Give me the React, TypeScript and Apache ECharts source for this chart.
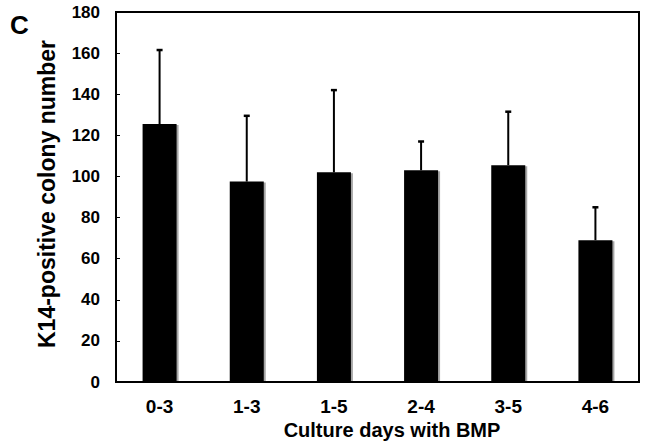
import React, { useEffect, useRef } from "react";
import * as echarts from "echarts";

const categories = ["0-3", "1-3", "1-5", "2-4", "3-5", "4-6"];
const means = [125.5, 97.5, 102, 103, 105.5, 69];
const errors = [36, 32, 40, 14, 26, 16];
const yTicks = { min: 0, max: 180, interval: 20 };

export default function App() {
  const ref = useRef<HTMLDivElement>(null);
  useEffect(() => {
    if (!ref.current) return;
    const chart = echarts.init(ref.current, null, { renderer: "svg" });
    const font = "'Liberation Sans', Arial, sans-serif";
    const errData = means.map((m, i) => [i, m, m + errors[i]]);
    chart.setOption({
      animation: false,
      backgroundColor: "#fff",
      grid: {
        left: 116,
        right: 16,
        top: 12,
        bottom: 62,
        show: true,
        borderColor: "#000",
        borderWidth: 2,
        backgroundColor: "transparent",
      },
      xAxis: {
        type: "category",
        data: categories,
        boundaryGap: true,
        axisLine: { lineStyle: { color: "#000", width: 2 } },
        axisTick: { inside: true, length: 4, lineStyle: { color: "#000", width: 1 } },
        axisLabel: {
          color: "#000",
          fontFamily: font,
          fontWeight: "bold",
          fontSize: 19,
          margin: 15,
        },
        splitLine: { show: false },
      },
      yAxis: {
        type: "value",
        min: yTicks.min,
        max: yTicks.max,
        interval: yTicks.interval,
        axisLine: { show: true, lineStyle: { color: "#000", width: 2 } },
        axisTick: { show: true, inside: true, length: 4, lineStyle: { color: "#000", width: 1 } },
        axisLabel: {
          color: "#000",
          fontFamily: font,
          fontWeight: "bold",
          fontSize: 17,
          margin: 16,
        },
        splitLine: { show: false },
      },
      graphic: [
        {
          type: "text",
          left: 10,
          top: 12,
          style: { text: "C", fontFamily: font, fontWeight: "bold", fontSize: 26, fill: "#000" },
        },
        {
          type: "text",
          x: 47,
          y: 194,
          rotation: Math.PI / 2,
          style: {
            text: "K14-positive colony number",
            fontFamily: font,
            fontWeight: "bold",
            fontSize: 23,
            fill: "#000",
            align: "center",
            verticalAlign: "middle",
          },
        },
        {
          type: "text",
          x: 392,
          y: 430,
          style: {
            text: "Culture days with BMP",
            fontFamily: font,
            fontWeight: "bold",
            fontSize: 20,
            fill: "#000",
            align: "center",
            verticalAlign: "middle",
          },
        },
      ],
      series: [
        {
          type: "bar",
          data: means,
          barWidth: 34,
          itemStyle: {
            color: "#000",
            shadowColor: "rgba(0,0,0,0.35)",
            shadowOffsetX: 2,
            shadowOffsetY: 1,
            shadowBlur: 1,
          },
          z: 2,
        },
        {
          type: "custom",
          data: errData,
          z: 3,
          renderItem: (params: any, api: any) => {
            const i = api.value(0);
            const lo = api.coord([i, api.value(1)]);
            const hi = api.coord([i, api.value(2)]);
            const half = 3;
            return {
              type: "group",
              children: [
                {
                  type: "line",
                  shape: { x1: lo[0], y1: lo[1], x2: hi[0], y2: hi[1] },
                  style: { stroke: "#000", lineWidth: 2 },
                },
                {
                  type: "line",
                  shape: { x1: hi[0] - half, y1: hi[1], x2: hi[0] + half, y2: hi[1] },
                  style: { stroke: "#000", lineWidth: 2.5 },
                },
              ],
            };
          },
        },
      ],
    });
    return () => chart.dispose();
  }, []);
  return (
    <div
      ref={ref}
      style={{ position: "absolute", left: 0, top: 0, width: 655, height: 444 }}
    />
  );
}
